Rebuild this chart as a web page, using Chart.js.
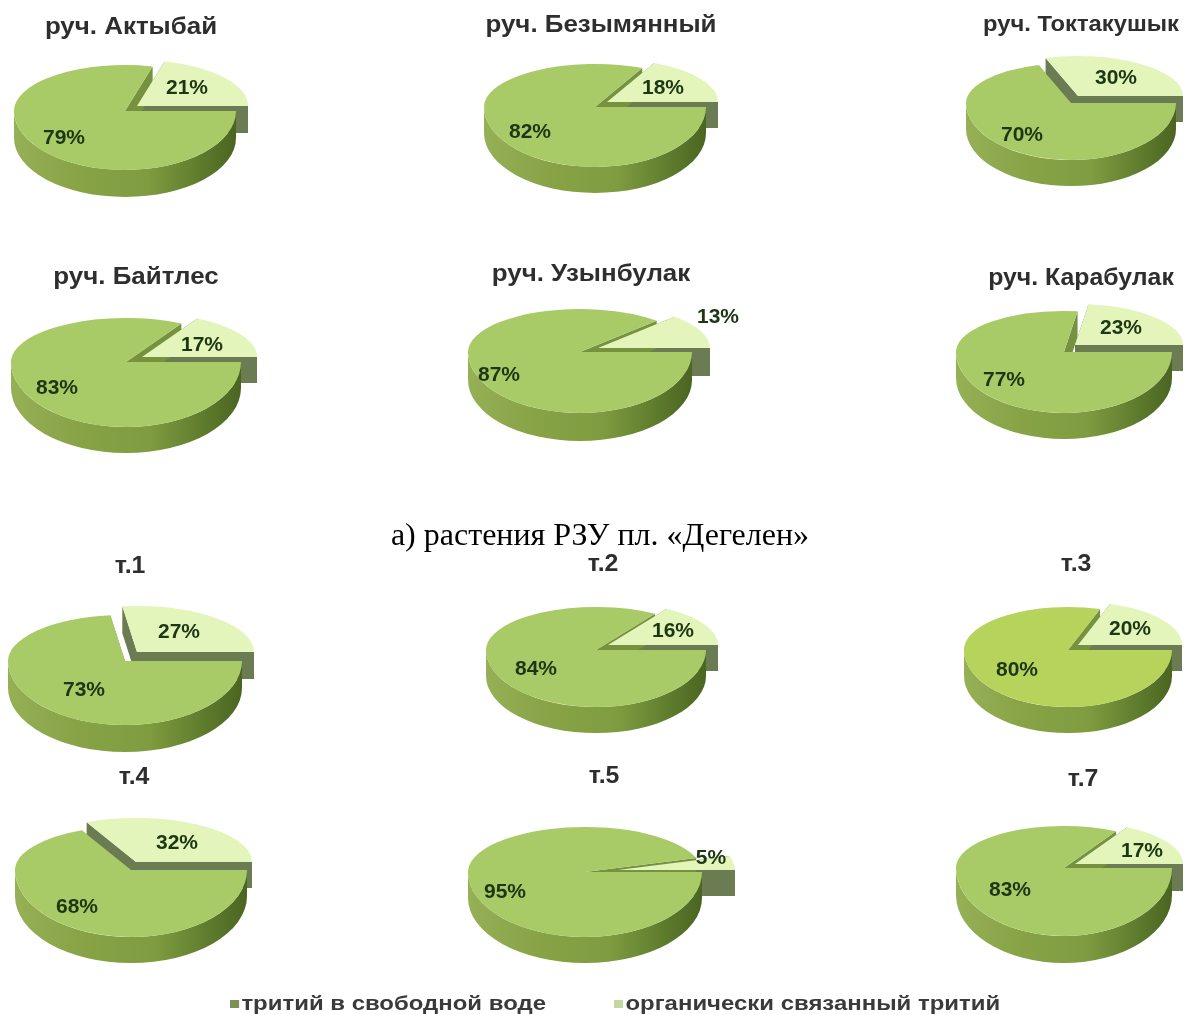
<!DOCTYPE html>
<html lang="ru">
<head>
<meta charset="utf-8">
<title>Тритий в растениях</title>
<script src="https://cdn.jsdelivr.net/npm/chart.js@4"></script>
<style>
  html, body { margin: 0; background: #fff; }
  #page { position: relative; width: 1187px; height: 1015px; overflow: hidden; }
  #page canvas { position: absolute; }
  .title, .caption, .legend { position: absolute; white-space: nowrap; }
  .title { font: bold 24px "Liberation Sans", sans-serif; color: #2e2e2e; transform: translate(-50%, -50%) scaleX(1.08); }
  .caption { font: 32px "Liberation Serif", serif; color: #000; transform: translate(-50%, -50%); }
  .legend { font: bold 21px "Liberation Sans", sans-serif; color: #3a3a3a; transform: translateY(-50%) scaleX(1.14); transform-origin: left center; }
  .legend i { display: inline-block; width: 8px; height: 8px; margin-right: 2px; vertical-align: 2px; }
</style>
</head>
<body>
<div id="page"></div>
<script>
// Data
var pieNames = ['руч. Актыбай', 'руч. Безымянный', 'руч. Токтакушык', 'руч. Байтлес', 'руч. Узынбулак', 'руч. Карабулак',
  'т.1', 'т.2', 'т.3', 'т.4', 'т.5', 'т.7'];
var seriesNames = ['органически связанный тритий', 'тритий в свободной воде'];
var organicTritium = [21, 18, 30, 17, 13, 23, 27, 16, 20, 32, 5, 17];
var freeWaterTritium = [79, 82, 70, 83, 87, 77, 73, 84, 80, 68, 95, 83];

// Layout: centre, radius, height of the disc above and below the centre (the far
// half looks shorter), wall height, how far the pale slice is pulled out
var pieFrames = [
  {cx: 125, cy: 111, rx: 111, up: 46, down: 59, depth: 27, dx: 12, dy: 5},
  {cx: 595, cy: 107, rx: 111, up: 43, down: 60, depth: 26, dx: 12, dy: 5},
  {cx: 1071, cy: 103, rx: 105, up: 40, down: 57, depth: 26, dx: 7, dy: 7},
  {cx: 126, cy: 362, rx: 115, up: 44, down: 65, depth: 26, dx: 16, dy: 5},
  {cx: 580, cy: 352, rx: 112, up: 43, down: 61, depth: 28, dx: 18, dy: 4},
  {cx: 1064, cy: 352, rx: 108, up: 41, down: 61, depth: 26, dx: 11, dy: 7},
  {cx: 125, cy: 661, rx: 117, up: 46, down: 64, depth: 27, dx: 12, dy: 9},
  {cx: 596, cy: 650, rx: 110, up: 43, down: 57, depth: 26, dx: 12, dy: 5},
  {cx: 1068, cy: 650, rx: 104, up: 43, down: 57, depth: 26, dx: 10, dy: 5},
  {cx: 131, cy: 870, rx: 116, up: 44, down: 67, depth: 26, dx: 5, dy: 8},
  {cx: 585, cy: 872, rx: 117, up: 45, down: 65, depth: 26, dx: 33, dy: 2},
  {cx: 1064, cy: 868, rx: 108, up: 42, down: 68, depth: 27, dx: 11, dy: 4}
];
// Page positions of the percent labels: [pale slice, green slice]
var labelSpots = [
  [[187, 88], [64, 138]], [[663, 88], [530, 132]], [[1116, 78], [1022, 135]],
  [[202, 345], [57, 388]], [[718, 317], [499, 375]], [[1121, 328], [1004, 380]],
  [[179, 632], [84, 690]], [[673, 631], [536, 669]], [[1130, 629], [1017, 670]],
  [[177, 843], [77, 907]], [[711, 858], [505, 892]], [[1142, 851], [1010, 890]]
];
var titleSpots = [
  {x: 131, y: 26, size: 24}, {x: 601, y: 24, size: 24}, {x: 1081, y: 24, size: 22},
  {x: 136, y: 276, size: 24}, {x: 591, y: 273, size: 24}, {x: 1081, y: 277, size: 23},
  {x: 130, y: 565, size: 23}, {x: 603, y: 563, size: 23}, {x: 1076, y: 563, size: 23},
  {x: 134, y: 776, size: 23}, {x: 604, y: 775, size: 23}, {x: 1083, y: 778, size: 23}
];

var GREEN = '#a9cb67';
var YELLOW_GREEN = '#b6d35c';
var PALE = '#e3f5bb';
var FACE = '#6c7c52';

var page = document.getElementById('page');

function addText(cls, text, x, y, size) {
  var el = document.createElement('div');
  el.className = cls;
  el.textContent = text;
  el.style.left = x + 'px';
  el.style.top = y + 'px';
  if (size) el.style.fontSize = size + 'px';
  page.appendChild(el);
  return el;
}

// Flat side face running from the slice centre out to the rim at the given angle
function cutFace(ctx, el, angle, drop, color) {
  var r = el.outerRadius;
  var ex = el.x + Math.cos(angle) * r;
  var ey = el.y + Math.sin(angle) * r;
  ctx.beginPath();
  ctx.moveTo(el.x, el.y);
  ctx.lineTo(ex, ey);
  ctx.lineTo(ex, ey + drop);
  ctx.lineTo(el.x, el.y + drop);
  ctx.closePath();
  ctx.fillStyle = color;
  ctx.fill();
}

// Curved outer wall, only the part of the rim that faces the viewer
function rimWall(ctx, el, drop) {
  var from = Math.max(el.startAngle, 0);
  var to = Math.min(el.endAngle, Math.PI);
  if (to <= from) return;
  var r = el.outerRadius;
  var grad = ctx.createLinearGradient(el.x - r, 0, el.x + r, 0);
  grad.addColorStop(0, '#96b055');
  grad.addColorStop(0.3, '#87a346');
  grad.addColorStop(0.6, '#7f9c40');
  grad.addColorStop(0.85, '#5c7a2c');
  grad.addColorStop(1, '#4b6521');
  ctx.beginPath();
  ctx.arc(el.x, el.y, r, from, to);
  ctx.arc(el.x, el.y + drop, r, to, from, true);
  ctx.closePath();
  ctx.fillStyle = grad;
  ctx.fill();
}

// Vertical squash about the pie centre, canvas y of the centre is height / 2
function squash(ctx, mid, k) {
  ctx.translate(0, mid);
  ctx.scale(1, k);
  ctx.translate(0, -mid);
}

var solidPie = {
  id: 'solidPie',
  afterDatasetUpdate: function (chart) {
    var frame = chart.options.plugins.solidPie.frame;
    var mid = chart.height / 2;
    var kUp = frame.up / frame.rx;
    var kDown = frame.down / frame.rx;
    var arcs = chart.getDatasetMeta(0).data;
    var pale = arcs[0];
    var green = arcs[1];
    // pull the pale slice up and to the right
    pale.x += frame.dx;
    pale.y -= frame.dy / kUp;

    var drawPale = pale.draw;
    pale.draw = function (ctx, area) {
      var drop = frame.depth / kUp;
      ctx.save();
      squash(ctx, mid, kUp);
      cutFace(ctx, pale, pale.startAngle, drop, FACE);
      cutFace(ctx, pale, pale.endAngle, drop, FACE);
      cutFace(ctx, green, green.endAngle, drop, '#77923f');
      drawPale.call(pale, ctx, area);
      ctx.restore();
    };

    // far and near halves of the green disc get their own squash
    var drawGreen = green.draw;
    green.draw = function (ctx, area) {
      ctx.save();
      ctx.beginPath();
      ctx.rect(0, 0, chart.width, mid);
      ctx.clip();
      squash(ctx, mid, kUp);
      drawGreen.call(green, ctx, area);
      ctx.restore();

      ctx.save();
      ctx.beginPath();
      ctx.rect(0, mid, chart.width, chart.height - mid);
      ctx.clip();
      squash(ctx, mid, kDown);
      rimWall(ctx, green, frame.depth / kDown);
      drawGreen.call(green, ctx, area);
      ctx.restore();
    };
  },
  afterDraw: function (chart) {
    var opts = chart.options.plugins.solidPie;
    var ctx = chart.ctx;
    var values = chart.data.datasets[0].data;
    ctx.save();
    ctx.font = 'bold 21px "Liberation Sans", sans-serif';
    ctx.fillStyle = '#1d3613';
    ctx.textAlign = 'center';
    ctx.textBaseline = 'middle';
    values.forEach(function (v, i) {
      ctx.fillText(v + '%', opts.spots[i][0] - opts.left, opts.spots[i][1] - opts.top);
    });
    ctx.restore();
  }
};

pieNames.forEach(function (name, i) {
  var frame = pieFrames[i];
  var width = 2 * (frame.rx + 50);
  var height = 2 * (frame.down + frame.depth + 30);
  var left = frame.cx - width / 2;
  var top = frame.cy - height / 2;
  var canvas = document.createElement('canvas');
  canvas.width = width;
  canvas.height = height;
  canvas.style.left = left + 'px';
  canvas.style.top = top + 'px';
  page.appendChild(canvas);

  new Chart(canvas.getContext('2d'), {
    type: 'pie',
    data: {
      labels: seriesNames,
      datasets: [{
        data: [organicTritium[i], freeWaterTritium[i]],
        backgroundColor: [PALE, name === 'т.3' ? YELLOW_GREEN : GREEN],
        borderWidth: 0,
        radius: frame.rx,
        clip: false
      }]
    },
    options: {
      responsive: false,
      animation: false,
      events: [],
      devicePixelRatio: 1,
      rotation: 90 - organicTritium[i] * 3.6,
      plugins: {
        legend: {display: false},
        tooltip: {enabled: false},
        solidPie: {frame: frame, spots: labelSpots[i], left: left, top: top}
      }
    },
    plugins: [solidPie]
  });

  addText('title', name, titleSpots[i].x, titleSpots[i].y, titleSpots[i].size);
});

addText('caption', 'а) растения РЗУ пл. «Дегелен»', 600, 534);

// Shared legend under the last row
function addLegend(text, x, color) {
  var el = addText('legend', text, x, 1003);
  var box = document.createElement('i');
  box.style.background = color;
  el.insertBefore(box, el.firstChild);
}
addLegend(seriesNames[1], 230, '#7d9257');
addLegend(seriesNames[0], 614, '#c6d6a0');
</script>
</body>
</html>
